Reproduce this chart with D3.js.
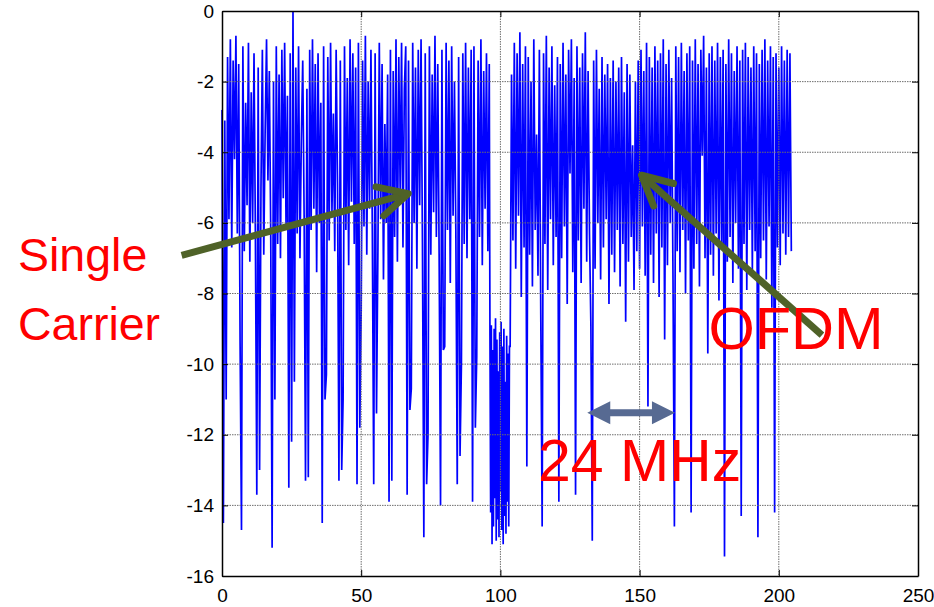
<!DOCTYPE html>
<html>
<head>
<meta charset="utf-8">
<script src="https://cdn.jsdelivr.net/npm/d3@7"></script>
<style>
  body { margin: 0; background: #fff; }
  svg { display: block; font-family: "Liberation Sans", Arial, sans-serif; }
</style>
</head>
<body>
<div id="chart"></div>
<script>
// Spectrum samples (x in MHz, y in dB-ish units)
// single carrier part, 0 .. 96 by 0.5
const scStart = 0, scStep = 0.5;
const singleCarrier = [
  -2.8, -14.5, -3.1, -11.0, -1.3, -5.9, -0.8, -6.7, -1.4, -4.2, -0.7, -6.3,
  -1.5, -9.4, -14.7, -1.0, -6.8, -2.6, -5.5, -0.9, -7.1, -2.3, -6.0, -1.2,
  -6.4, -13.7, -1.6, -13.0, -5.0, -1.1, -6.9, -3.4, -0.8, -4.8, -1.7, -6.2,
  -15.2, -2.0, -11.0, -1.0, -6.6, -1.8, -7.0, -1.1, -5.3, -0.9, -6.1, -2.4,
  -13.5, -1.2, -12.2, 0.0, -10.5, -1.6, -6.3, -1.0, -7.0, -3.6, -1.4, -5.8,
  -13.3, -2.2, -13.2, -1.1, -6.2, -0.8, -5.6, -1.5, -7.4, -1.2, -6.0, -2.6,
  -14.5, -1.0, -11.0, -10.3, -1.3, -6.5, -0.9, -5.7, -2.9, -6.8, -1.1, -4.9,
  -13.3, -1.4, -13.0, -11.0, -1.0, -6.2, -1.9, -7.2, -0.8, -5.4, -1.2, -6.6,
  -1.6, -13.4, -0.9, -11.8, -8.5, -1.4, -6.1, -0.7, -6.9, -2.0, -5.6, -1.1,
  -6.3, -13.4, -1.2, -11.4, -6.8, -0.9, -5.9, -1.5, -7.6, -3.2, -6.0, -1.8,
  -13.9, -1.1, -13.3, -1.7, -6.4, -0.8, -7.1, -1.3, -5.2, -0.9, -6.7, -2.2,
  -1.0, -13.7, -1.4, -11.3, -10.7, -0.9, -6.0, -1.6, -7.3, -1.1, -5.5, -0.8,
  -6.6, -14.9, -1.2, -13.4, -12.0, -1.0, -6.9, -1.8, -5.7, -0.7, -6.4, -1.5,
  -7.0, -14.0, -1.1, -9.6, -9.5, -0.9, -6.2, -1.4, -7.7, -1.0, -5.8, -2.0,
  -6.3, -13.4, -1.3, -12.6, -10.0, -1.2, -6.6, -0.9, -7.0, -1.6, -5.9, -1.1,
  -13.9, -1.0, -11.8, -9.8, -1.4, -6.4, -0.8, -7.2, -1.7, -5.6, -1.2, -6.8,
  -1.5
];

// centre notch, 96.25 .. 103.25 by 0.25
const notchStart = 96.25, notchStep = 0.25;
const notchVals = [
  -9.2, -14.2, -8.9, -15.1, -9.6, -14.6, -9.0, -13.8, -8.7, -15.0,
  -9.3, -14.4, -10.2, -14.9, -9.1, -13.6, -8.8, -14.7, -9.5, -15.1,
  -9.0, -14.3, -10.5, -14.8, -9.2, -13.9, -9.7, -14.6, -9.5
];

// OFDM part, 103.5 .. 204.5 by 0.5
const ofdmStart = 103.5, ofdmStep = 0.5;
const ofdmVals = [
  -9.5, -1.8, -6.5, -0.9, -7.3, -1.2, -5.8, -0.6, -8.1, -1.5, -6.7, -1.0,
  -12.9, -1.3, -6.9, -2.0, -7.8, -0.8, -6.2, -3.5, -7.5, -1.1, -8.6, -14.6,
  -1.2, -6.6, -0.7, -7.9, -1.6, -5.9, -1.0, -7.2, -2.1, -6.4, -1.3, -13.9,
  -1.5, -7.0, -0.9, -6.1, -1.8, -8.3, -1.1, -4.6, -0.8, -7.4, -1.9, -13.7,
  -1.0, -6.5, -1.6, -7.7, -1.2, -5.6, -0.6, -7.1, -1.7, -6.3, -8.9, -15.0,
  -1.4, -7.3, -1.1, -6.0, -2.2, -7.6, -1.3, -6.7, -1.8, -5.9, -1.5, -8.3,
  -1.9, -6.9, -1.4, -7.4, -2.0, -6.2, -1.6, -7.8, -1.3, -6.6, -2.3, -8.8,
  -1.5, -7.1, -1.8, -6.4, -3.8, -7.9, -2.0, -6.8, -1.4, -7.3, -1.1, -6.1,
  -1.7, -7.5, -0.9, -11.2, -1.3, -6.9, -1.6, -7.7, -1.0, -6.3, -1.4, -8.1,
  -1.2, -6.7, -0.8, -9.3, -1.5, -7.2, -1.1, -6.0, -1.9, -7.6, -14.6, -1.0,
  -6.8, -1.3, -7.4, -0.9, -6.2, -1.7, -8.0, -1.2, -6.5, -1.0, -14.2, -1.4,
  -7.3, -0.8, -6.6, -1.5, -7.8, -1.1, -4.1, -0.7, -7.0, -1.6, -9.7, -1.2,
  -6.9, -1.0, -7.5, -1.4, -6.3, -0.9, -8.2, -1.3, -6.7, -1.1, -15.45, -1.5,
  -7.1, -0.8, -6.4, -1.2, -7.7, -1.7, -6.0, -1.0, -7.3, -1.4, -14.3, -1.1,
  -6.6, -0.9, -7.9, -1.3, -6.2, -1.6, -7.4, -1.0, -6.8, -1.2, -14.9, -1.5,
  -7.0, -1.1, -6.5, -0.8, -7.6, -1.4, -6.1, -1.0, -8.4, -1.3, -14.2, -1.2,
  -6.7, -1.6, -7.2, -1.0, -6.3, -1.4, -6.9, -1.1, -6.4, -1.2, -6.8
];

const xTicks = [0, 50, 100, 150, 200, 250];
const yTicks = [0, -2, -4, -6, -8, -10, -12, -14, -16];

// ---------------------------------------------------------------
const width = 934, height = 607;
const margin = { top: 11, right: 16, bottom: 31, left: 222 };

const svg = d3.select("#chart").append("svg")
    .attr("width", width)
    .attr("height", height);

const x = d3.scaleLinear().domain([0, 250]).range([margin.left, width - margin.right]);
const y = d3.scaleLinear().domain([-16, 0]).range([height - margin.bottom, margin.top]);

// stitch the three pieces into one trace
const points = [];
singleCarrier.forEach((v, i) => points.push({ f: scStart + i * scStep, v }));
notchVals.forEach((v, i) => points.push({ f: notchStart + i * notchStep, v }));
ofdmVals.forEach((v, i) => points.push({ f: ofdmStart + i * ofdmStep, v }));

const line = d3.line()
    .x(d => x(d.f))
    .y(d => y(d.v));

svg.append("path")
    .datum(points)
    .attr("d", line)
    .attr("fill", "none")
    .attr("stroke", "#0000ff")
    .attr("stroke-width", 1.7);

// grid (MATLAB draws it on top, dotted)
const grid = svg.append("g").attr("stroke", "#6e6e6e").attr("stroke-width", 1)
    .attr("stroke-dasharray", "1.5,1");
grid.selectAll("line.gx").data(xTicks.slice(1, -1)).join("line")
    .attr("x1", d => x(d)).attr("x2", d => x(d))
    .attr("y1", y(0)).attr("y2", y(-16));
grid.selectAll("line.gy").data(yTicks.slice(1, -1)).join("line")
    .attr("x1", x(0)).attr("x2", x(250))
    .attr("y1", d => y(d)).attr("y2", d => y(d));

// axes, ticks pointing inward on all four sides
function styleAxis(g) {
    g.attr("font-family", null).attr("font-size", 19);
    g.select(".domain").attr("stroke", "#000").attr("stroke-width", 1.5);
    g.selectAll(".tick line").attr("stroke", "#000");
    g.selectAll(".tick text").attr("fill", "#000");
}

svg.append("g")
    .attr("transform", `translate(0,${y(-16)})`)
    .call(d3.axisBottom(x).tickValues(xTicks).tickSize(-6).tickSizeOuter(0).tickPadding(12.5)
        .tickFormat(d => String(d)))
    .call(styleAxis);

svg.append("g")
    .attr("transform", `translate(0,${y(0)})`)
    .call(d3.axisTop(x).tickValues(xTicks).tickSize(-6).tickSizeOuter(0).tickFormat(""))
    .call(styleAxis);

svg.append("g")
    .attr("transform", `translate(${x(0)},0)`)
    .call(d3.axisLeft(y).tickValues(yTicks).tickSize(-6).tickSizeOuter(0).tickPadding(8)
        .tickFormat(d => String(d)))
    .call(styleAxis);

svg.append("g")
    .attr("transform", `translate(${x(250)},0)`)
    .call(d3.axisRight(y).tickValues(yTicks).tickSize(-6).tickSizeOuter(0).tickFormat(""))
    .call(styleAxis);

// ---------------------------------------------------------------
// annotations
const green = "#4f6228";
const red = "#ff0000";

function openArrow(x0, y0, x1, y1) {
    const a = Math.atan2(y0 - y1, x0 - x1);
    const len = 33, spread = 27 * Math.PI / 180;
    const w1 = [x1 + len * Math.cos(a + spread), y1 + len * Math.sin(a + spread)];
    const w2 = [x1 + len * Math.cos(a - spread), y1 + len * Math.sin(a - spread)];
    svg.append("line")
        .attr("x1", x0).attr("y1", y0).attr("x2", x1).attr("y2", y1)
        .attr("stroke", green).attr("stroke-width", 7);
    svg.append("path")
        .attr("d", `M${w1[0]},${w1[1]}L${x1},${y1}L${w2[0]},${w2[1]}`)
        .attr("fill", "none")
        .attr("stroke", green).attr("stroke-width", 7)
        .attr("stroke-linecap", "round")
        .attr("stroke-linejoin", "round");
}

openArrow(x(-14.5), y(-6.92), x(66.9), y(-5.17));
openArrow(x(215.5), y(-9.18), x(150.7), y(-4.65));

// double arrow marking 24 MHz
(function () {
    const xl = x(131.2), xr = x(162.7), yc = y(-11.38);
    const head = 23, hh = 11.5, sh = 3.5;
    const pts = [
        [xl, yc], [xl + head, yc - hh], [xl + head, yc - sh], [xr - head, yc - sh],
        [xr - head, yc - hh], [xr, yc], [xr - head, yc + hh], [xr - head, yc + sh],
        [xl + head, yc + sh], [xl + head, yc + hh]
    ];
    svg.append("path")
        .attr("d", "M" + pts.map(p => p.join(",")).join("L") + "Z")
        .attr("fill", "#576a92");
})();

const texts = svg.append("g").attr("fill", red);
texts.append("text").attr("x", 18).attr("y", y(-7.37)).attr("font-size", 46.5).text("Single");
texts.append("text").attr("x", 18).attr("y", y(-9.33)).attr("font-size", 46.5).text("Carrier");
texts.append("text").attr("x", x(175.8) - 3).attr("y", y(-9.56)).attr("font-size", 59.5).text("OFDM");
texts.append("text").attr("x", x(114.2) - 2).attr("y", y(-13.31)).attr("font-size", 59).text("24 MHz");
</script>
</body>
</html>
